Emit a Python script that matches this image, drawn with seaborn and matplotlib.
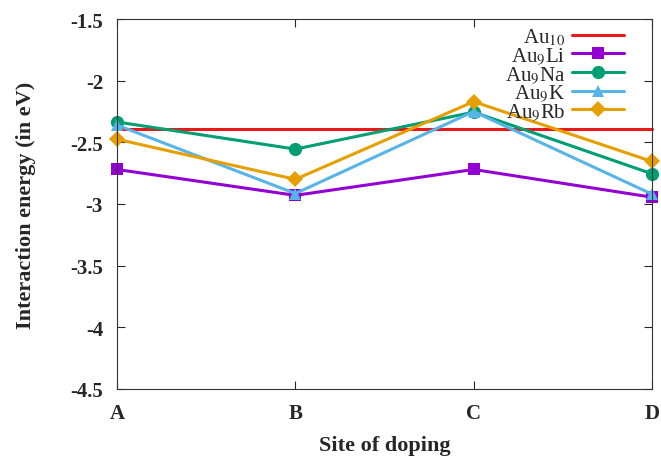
import matplotlib
matplotlib.use("Agg")
import matplotlib.pyplot as plt
import pandas as pd
import numpy as np
import seaborn as sns

sites = ["A", "B", "C", "D"]
au10 = [-2.39, -2.39, -2.39, -2.39]
au9li = [-2.72, -2.93, -2.72, -2.945]
au9na = [-2.335, -2.555, -2.255, -2.755]
au9k = [-2.36, -2.915, -2.25, -2.92]
au9rb = [-2.475, -2.80, -2.17, -2.655]

labels = ["Au$_{10}$", "Au$_{9}$Li", "Au$_{9}$Na", "Au$_{9}$K", "Au$_{9}$Rb"]
colors = ["#e8191a", "#9400d3", "#009e73", "#56b4e9", "#e69f00"]
marks = [None, "s", "o", "^", "D"]
msizes = [0, 9, 9.5, 9, 8]

sns.set_style("ticks")
plt.rcParams["font.family"] = ["Liberation Serif", "DejaVu Serif"]
plt.rcParams["mathtext.fontset"] = "stix"

fig = plt.figure(figsize=(6.61, 4.60), dpi=100)
ax = fig.add_axes([117 / 661, 70 / 460, 535 / 661, 370 / 460])

for vals, lab, col, mk, ms in zip([au10, au9li, au9na, au9k, au9rb], labels, colors, marks, msizes):
    df = pd.DataFrame({"x": np.arange(len(sites)), "y": vals})
    sns.lineplot(data=df, x="x", y="y", ax=ax, color=col, marker=mk, markersize=ms,
                 markeredgewidth=0, linewidth=2.2, label=lab, clip_on=False)

ax.set_xlim(0, 3)
ax.set_ylim(-4.5, -1.5)
ax.set_xticks(np.arange(len(sites)))
ax.set_xticklabels(sites)
ax.set_yticks(np.arange(-4.5, -1.49, 0.5))
ax.set_yticklabels(["-4.5", "-4", "-3.5", "-3", "-2.5", "-2", "-1.5"])
for t in ax.get_xticklabels() + ax.get_yticklabels():
    t.set_fontweight("bold")
    t.set_fontsize(15)
ax.tick_params(direction="in", length=6, top=True, right=True, width=0.8, pad=10)
for s in ax.spines.values():
    s.set_linewidth(0.8)
    s.set_color("#333333")

ax.set_xlabel("Site of doping", fontsize=16, fontweight="bold")
ax.set_ylabel("Interaction energy (in eV)", fontsize=16, fontweight="bold")
ax.xaxis.set_label_coords(0.5, -0.125)
ax.yaxis.set_label_coords(-0.152, 0.5)

leg = ax.legend(loc="upper right", frameon=False, markerfirst=False, fontsize=15,
                handlelength=2.5, labelspacing=-0.1, borderpad=0, handletextpad=0.3,
                bbox_to_anchor=(634 / 661, (460 - 17) / 460), bbox_transform=fig.transFigure)

fig.savefig("out.png", dpi=100)
